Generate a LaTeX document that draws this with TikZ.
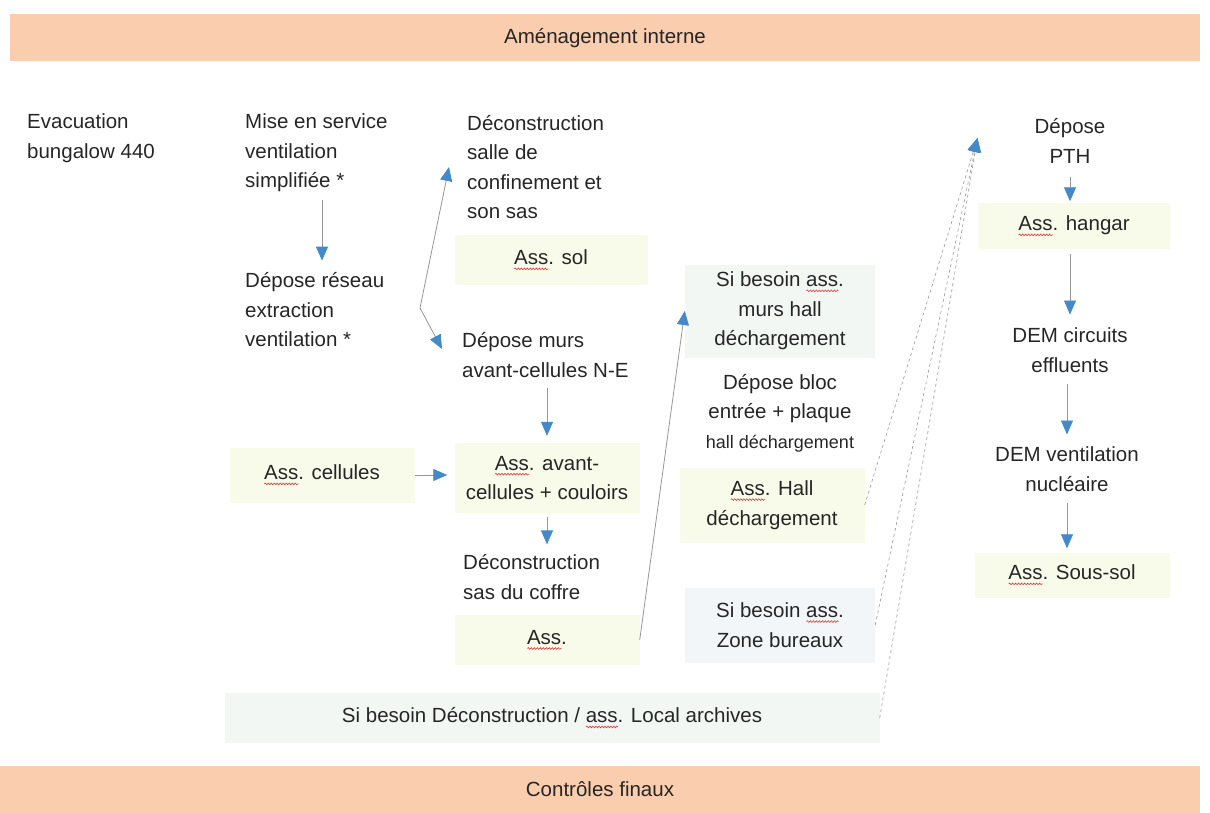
\documentclass[tikz,border=0pt]{standalone}
\usepackage{fontspec}
\setmainfont{Liberation Sans}
\usepackage{xcolor}
\usetikzlibrary{arrows.meta,decorations.pathmorphing}
\definecolor{band-orange}{RGB}{250,205,175}
\definecolor{pale-yellow}{RGB}{249,251,234}
\definecolor{pale-grey}{RGB}{243,247,244}
\definecolor{pale-blue}{RGB}{242,246,248}
\definecolor{arrow-blue}{RGB}{68,138,200}
\definecolor{line-grey}{RGB}{150,150,150}
\definecolor{spell-red}{RGB}{215,40,40}
\newsavebox\spellbox
\newcommand\spellwave[1]{\sbox\spellbox{#1}\rlap{\tikz[baseline=0pt, x=1pt, y=1pt]\draw[spell-red, line width=0.5pt, decorate, decoration={snake, amplitude=0.9pt, segment length=3pt}] (0,-4) -- (\the\wd\spellbox,-4);}#1}
\tikzset{
    step-text/.style = {inner sep=0pt, yshift=-3pt, font=\fontsize{20.5}{29.5}\selectfont, text=black!85},
    ass-box/.style = {step-text, fill=pale-yellow, align=center, minimum width=185pt, minimum height=50pt},
    band-box/.style = {step-text, fill=band-orange, minimum height=47pt},
    flow-arrow/.style = {draw=line-grey, line width=0.8pt, -{Triangle[length=14pt,width=12pt,color=arrow-blue]}},
    dash-arrow/.style = {flow-arrow, dashed, line width=0.6pt},
}

\begin{document}
\begin{tikzpicture}[x=1pt, y=-1pt]
\useasboundingbox (0,0) rectangle (1210,813);
\node [band-box, minimum width=1190pt] (amenag) at (605,35) {Aménagement interne};
\node [band-box, minimum width=1200pt] (controles) at (600,786) {Contrôles finaux};

% colonne 1
\node [step-text, anchor=west, align=left] (evac) at (27,135) {Evacuation\\bungalow 440};

% colonne 2
\node [step-text, anchor=west, align=left] (mise) at (245,150) {Mise en service\\ventilation\\simplifiée *};
\node [step-text, anchor=west, align=left] (reseau) at (245,307) {Dépose réseau\\extraction\\ventilation *};
\node [ass-box, minimum height=55pt] (cellules) at (322,472) {\spellwave{Ass}. cellules};

% colonne 3
\node [step-text, anchor=west, align=left] (salle) at (467,164) {Déconstruction\\salle de\\confinement et\\son sas};
\node [ass-box, minimum width=193pt] (sol) at (551,257) {\spellwave{Ass}. sol};
\node [step-text, anchor=west, align=left] (murs) at (462,352) {Dépose murs\\avant-cellules N-E};
\node [ass-box, minimum height=70pt] (avant) at (547,475) {\spellwave{Ass}. avant-\\cellules + couloirs};
\node [step-text, anchor=west, align=left] (coffre) at (463,574) {Déconstruction\\sas du coffre};
\node [ass-box] (ass) at (547,637) {\spellwave{Ass}.};

% colonne 4
\node [ass-box, fill=pale-grey, minimum width=190pt, minimum height=93pt] (murshall) at (780,308) {Si besoin \spellwave{ass}.\\murs hall\\déchargement};
\node [step-text, align=center] (bloc) at (780,410) {Dépose bloc\\entrée + plaque\\{\fontsize{18}{26}\selectfont hall déchargement}};
\node [ass-box, minimum height=75pt] (asshall) at (772,502) {\spellwave{Ass}. Hall\\déchargement};
\node [ass-box, fill=pale-blue, minimum width=190pt, minimum height=75pt] (bureaux) at (780,622) {Si besoin \spellwave{ass}.\\Zone bureaux};
\node [ass-box, fill=pale-grey, minimum width=655pt] (archives) at (552,715) {Si besoin Déconstruction / \spellwave{ass}. Local archives};

% colonne 5
\node [step-text, align=center] (pth) at (1070,138) {Dépose\\PTH};
\node [ass-box, minimum width=192pt, minimum height=45pt] (hangar) at (1074,223) {\spellwave{Ass}. hangar};
\node [step-text, align=center] (effluents) at (1070,347) {DEM circuits\\effluents};
\node [step-text, align=center] (ventnuc) at (1067,466) {DEM ventilation\\nucléaire};
\node [ass-box, minimum width=195pt, minimum height=45pt] (soussol) at (1072,572) {\spellwave{Ass}. Sous-sol};

\coordinate (fork) at (420,308);
\coordinate (pth-in) at ([xshift=-57pt, yshift=3pt]pth.west);

\draw [flow-arrow, shorten <=8pt, shorten >=12pt] (mise.south -| 322,0) -- (reseau.north -| 322,0);
\draw [flow-arrow] (fork) -- ([xshift=-18pt]salle.west);
\draw [flow-arrow] (fork) -- ([xshift=-20pt, yshift=6pt]murs.west);
\draw [flow-arrow, shorten <=10pt, shorten >=7pt] (avant.north |- murs.south) -- (avant.north);
\draw [flow-arrow, shorten >=7pt] (cellules.east) -- (cellules.east -| avant.west);
\draw [flow-arrow, shorten <=4pt, shorten >=10pt] (avant.south) -- (avant.south |- coffre.north);
\draw [flow-arrow] (ass.east) -- (murshall.west);
\draw [dash-arrow] (asshall.east) -- (pth-in);
\draw [dash-arrow] (bureaux.east) -- (pth-in);
\draw [dash-arrow] (archives.east) -- (pth-in);
\draw [flow-arrow, shorten <=14pt, shorten >=2pt] (pth.south) -- (pth.south |- hangar.north);
\draw [flow-arrow, shorten <=5pt, shorten >=13pt] (hangar.south -| effluents) -- (effluents.north);
\draw [flow-arrow, shorten <=12pt, shorten >=12pt] (effluents.south -| ventnuc) -- (ventnuc.north);
\draw [flow-arrow, shorten <=12pt, shorten >=4pt] (ventnuc.south) -- (ventnuc.south |- soussol.north);
\end{tikzpicture}
\end{document}
